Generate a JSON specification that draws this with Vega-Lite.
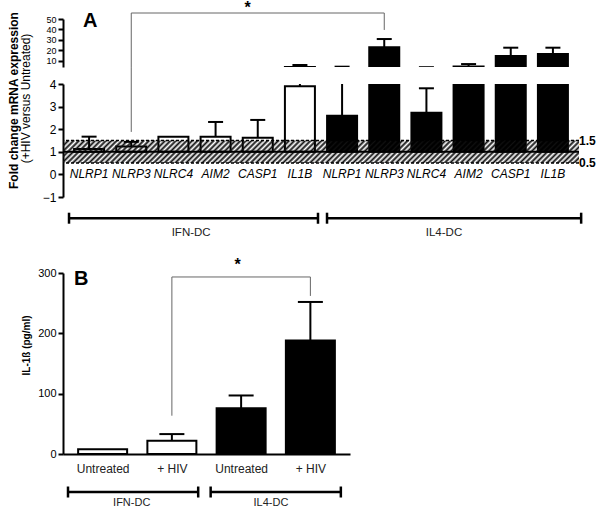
{
"$schema":"https://vega.github.io/schema/vega-lite/v6.json",
"padding":{"left":6,"top":0,"right":0,"bottom":0},
"background":"white",
"config":{"view":{"stroke":null},"font":"Liberation Sans","axis":{"domainColor":"black","domainWidth":2,"tickColor":"black","tickWidth":2,"tickSize":5,"labelColor":"black","labelFontSize":12,"labelPadding":2,"labelOverlap":false,"labelFlush":false,"labelBound":false,"grid":false,"titleColor":"black","labelFont":"Liberation Sans","titleFont":"Liberation Sans"},"text":{"font":"Liberation Sans"}},
"datasets":{
"a":[
{"pos":1,"gene":"NLRP1","group":"IFN-DC","value":1.12,"err":1.67},
{"pos":2,"gene":"NLRP3","group":"IFN-DC","value":1.24,"err":1.44},
{"pos":3,"gene":"NLRC4","group":"IFN-DC","value":1.67,"err":null},
{"pos":4,"gene":"AIM2","group":"IFN-DC","value":1.67,"err":2.32},
{"pos":5,"gene":"CASP1","group":"IFN-DC","value":1.62,"err":2.41},
{"pos":6,"gene":"IL1B","group":"IFN-DC","value":3.9,"err":5.9},
{"pos":7,"gene":"NLRP1","group":"IL4-DC","value":2.6,"err":4.3},
{"pos":8,"gene":"NLRP3","group":"IL4-DC","value":22.9,"err":30.8},
{"pos":9,"gene":"NLRC4","group":"IL4-DC","value":2.73,"err":3.81},
{"pos":10,"gene":"AIM2","group":"IL4-DC","value":4.5,"err":6.8},
{"pos":11,"gene":"CASP1","group":"IL4-DC","value":14.5,"err":22.5},
{"pos":12,"gene":"IL1B","group":"IL4-DC","value":16.5,"err":22.5}
],
"b":[
{"pos":1,"cond":"Untreated","group":"IFN-DC","value":8,"err":null},
{"pos":2,"cond":"+ HIV","group":"IFN-DC","value":22,"err":33},
{"pos":3,"cond":"Untreated","group":"IL4-DC","value":76,"err":97},
{"pos":4,"cond":"+ HIV","group":"IL4-DC","value":188,"err":252}
],
"brA_up":[{"x":2,"x2":2,"y":4,"y2":55.75},{"x":2,"x2":8,"y":55.75,"y2":55.75},{"x":8,"x2":8,"y":55.75,"y2":39.5}],
"brA_low":[{"x":2,"x2":2,"y":1.88,"y2":4.75}],
"brB":[{"x":2,"x2":2,"y":63.5,"y2":293.4},{"x":2,"x2":4,"y":293.4,"y2":293.4},{"x":4,"x2":4,"y":293.4,"y2":262}],
"grpA":[{"start":0.64,"end":6.43,"mid":3.48,"label":"IFN-DC"},{"start":6.64,"end":12.55,"mid":9.36,"label":"IL4-DC"}],
"grpB":[{"start":0.5,"end":2.38,"mid":1.42,"label":"IFN-DC"},{"start":2.56,"end":4.44,"mid":3.43,"label":"IL4-DC"}],
"refA":[{"y":1.5,"label":"1.5"},{"y":0.5,"label":"0.5"}]
},
"bounds":"flush",
"spacing":17,
"vconcat":[
{"width":516,"height":48,
"layer":[
{"data":{"name":"a"},"mark":{"type":"bar","width":30,"stroke":"black","strokeWidth":2,"clip":true},
"encoding":{
"x":{"field":"pos","type":"quantitative","scale":{"domain":[0.5,12.5],"nice":false,"zero":false},"axis":null},
"y":{"field":"value","type":"quantitative","scale":{"domain":[4,50],"nice":false,"zero":false},"axis":{"values":[10,20,30,40,50],"labelOverlap":false,"labelFontSize":9,"tickCount":5,"title":"(+HIV versus Untreated)","titleFontWeight":"normal","titleFontSize":12,"titleAngle":270,"titleX":-38,"titleY":79,"titleAlign":"center","titleBaseline":"middle"}},
"y2":{"datum":1},
"fill":{"field":"group","type":"nominal","scale":{"domain":["IFN-DC","IL4-DC"],"range":["white","black"]},"legend":null}}},
{"data":{"name":"a"},"transform":[{"filter":"datum.err != null"}],"mark":{"type":"rule","strokeWidth":2,"color":"black","clip":true},
"encoding":{"x":{"field":"pos","type":"quantitative"},"y":{"field":"value","type":"quantitative"},"y2":{"field":"err"}}},
{"data":{"name":"a"},"transform":[{"filter":"datum.err != null"}],"mark":{"type":"tick","orient":"horizontal","size":15,"thickness":2,"color":"black","opacity":1,"clip":true},
"encoding":{"x":{"field":"pos","type":"quantitative"},"y":{"field":"err","type":"quantitative"}}},
{"data":{"name":"brA_up"},"mark":{"type":"rule","color":"#666","strokeWidth":1},
"encoding":{"x":{"field":"x","type":"quantitative"},"x2":{"field":"x2"},"y":{"field":"y","type":"quantitative"},"y2":{"field":"y2"}}},
{"data":{"values":[{"label":"*"}]},"mark":{"type":"text","fontSize":16,"fontWeight":"bold","baseline":"middle","align":"center"},
"encoding":{"x":{"datum":4.76},"y":{"datum":60.5},"text":{"field":"label"}}},
{"data":{"values":[{"label":"A"}]},"mark":{"type":"text","fontSize":20,"fontWeight":"bold","baseline":"top","align":"left","dx":15,"dy":-8},
"encoding":{"x":{"datum":0.5},"y":{"datum":50},"text":{"field":"label"}}}
]},
{"width":516,"height":113,
"layer":[
{"data":{"name":"a"},"mark":{"type":"bar","width":30,"stroke":"black","strokeWidth":2,"clip":true},
"encoding":{
"x":{"field":"pos","type":"quantitative","scale":{"domain":[0.5,12.5],"nice":false,"zero":false},"axis":null},
"y":{"field":"value","type":"quantitative","scale":{"domain":[-1,4],"nice":false,"zero":false},"axis":{"values":[-1,0,1,2,3,4],"labelOverlap":false,"tickCount":6,"title":"Fold change  mRNA expression","titleFontWeight":"bold","titleFontSize":12,"titleAngle":270,"titleX":-50,"titleY":16,"titleAlign":"center","titleBaseline":"middle"}},
"y2":{"datum":1},
"fill":{"field":"group","type":"nominal","scale":{"domain":["IFN-DC","IL4-DC"],"range":["white","black"]},"legend":null}}},
{"data":{"values":[{}]},"mark":{"type":"rect","fill":{"gradient":"linear","x1":0,"y1":0,"x2":1.042,"y2":0.0456,"stops":[
{"offset":0,"color":"#111"},{"offset":0.005,"color":"transparent"},{"offset":0.01,"color":"#111"},{"offset":0.015,"color":"transparent"},{"offset":0.02,"color":"#111"},{"offset":0.025,"color":"transparent"},{"offset":0.03,"color":"#111"},{"offset":0.035,"color":"transparent"},{"offset":0.04,"color":"#111"},{"offset":0.045,"color":"transparent"},
{"offset":0.05,"color":"#111"},{"offset":0.055,"color":"transparent"},{"offset":0.06,"color":"#111"},{"offset":0.065,"color":"transparent"},{"offset":0.07,"color":"#111"},{"offset":0.075,"color":"transparent"},{"offset":0.08,"color":"#111"},{"offset":0.085,"color":"transparent"},{"offset":0.09,"color":"#111"},{"offset":0.095,"color":"transparent"},
{"offset":0.1,"color":"#111"},{"offset":0.105,"color":"transparent"},{"offset":0.11,"color":"#111"},{"offset":0.115,"color":"transparent"},{"offset":0.12,"color":"#111"},{"offset":0.125,"color":"transparent"},{"offset":0.13,"color":"#111"},{"offset":0.135,"color":"transparent"},{"offset":0.14,"color":"#111"},{"offset":0.145,"color":"transparent"},
{"offset":0.15,"color":"#111"},{"offset":0.155,"color":"transparent"},{"offset":0.16,"color":"#111"},{"offset":0.165,"color":"transparent"},{"offset":0.17,"color":"#111"},{"offset":0.175,"color":"transparent"},{"offset":0.18,"color":"#111"},{"offset":0.185,"color":"transparent"},{"offset":0.19,"color":"#111"},{"offset":0.195,"color":"transparent"},
{"offset":0.2,"color":"#111"},{"offset":0.205,"color":"transparent"},{"offset":0.21,"color":"#111"},{"offset":0.215,"color":"transparent"},{"offset":0.22,"color":"#111"},{"offset":0.225,"color":"transparent"},{"offset":0.23,"color":"#111"},{"offset":0.235,"color":"transparent"},{"offset":0.24,"color":"#111"},{"offset":0.245,"color":"transparent"},
{"offset":0.25,"color":"#111"},{"offset":0.255,"color":"transparent"},{"offset":0.26,"color":"#111"},{"offset":0.265,"color":"transparent"},{"offset":0.27,"color":"#111"},{"offset":0.275,"color":"transparent"},{"offset":0.28,"color":"#111"},{"offset":0.285,"color":"transparent"},{"offset":0.29,"color":"#111"},{"offset":0.295,"color":"transparent"},
{"offset":0.3,"color":"#111"},{"offset":0.305,"color":"transparent"},{"offset":0.31,"color":"#111"},{"offset":0.315,"color":"transparent"},{"offset":0.32,"color":"#111"},{"offset":0.325,"color":"transparent"},{"offset":0.33,"color":"#111"},{"offset":0.335,"color":"transparent"},{"offset":0.34,"color":"#111"},{"offset":0.345,"color":"transparent"},
{"offset":0.35,"color":"#111"},{"offset":0.355,"color":"transparent"},{"offset":0.36,"color":"#111"},{"offset":0.365,"color":"transparent"},{"offset":0.37,"color":"#111"},{"offset":0.375,"color":"transparent"},{"offset":0.38,"color":"#111"},{"offset":0.385,"color":"transparent"},{"offset":0.39,"color":"#111"},{"offset":0.395,"color":"transparent"},
{"offset":0.4,"color":"#111"},{"offset":0.405,"color":"transparent"},{"offset":0.41,"color":"#111"},{"offset":0.415,"color":"transparent"},{"offset":0.42,"color":"#111"},{"offset":0.425,"color":"transparent"},{"offset":0.43,"color":"#111"},{"offset":0.435,"color":"transparent"},{"offset":0.44,"color":"#111"},{"offset":0.445,"color":"transparent"},
{"offset":0.45,"color":"#111"},{"offset":0.455,"color":"transparent"},{"offset":0.46,"color":"#111"},{"offset":0.465,"color":"transparent"},{"offset":0.47,"color":"#111"},{"offset":0.475,"color":"transparent"},{"offset":0.48,"color":"#111"},{"offset":0.485,"color":"transparent"},{"offset":0.49,"color":"#111"},{"offset":0.495,"color":"transparent"},
{"offset":0.5,"color":"#111"},{"offset":0.505,"color":"transparent"},{"offset":0.51,"color":"#111"},{"offset":0.515,"color":"transparent"},{"offset":0.52,"color":"#111"},{"offset":0.525,"color":"transparent"},{"offset":0.53,"color":"#111"},{"offset":0.535,"color":"transparent"},{"offset":0.54,"color":"#111"},{"offset":0.545,"color":"transparent"},
{"offset":0.55,"color":"#111"},{"offset":0.555,"color":"transparent"},{"offset":0.56,"color":"#111"},{"offset":0.565,"color":"transparent"},{"offset":0.57,"color":"#111"},{"offset":0.575,"color":"transparent"},{"offset":0.58,"color":"#111"},{"offset":0.585,"color":"transparent"},{"offset":0.59,"color":"#111"},{"offset":0.595,"color":"transparent"},
{"offset":0.6,"color":"#111"},{"offset":0.605,"color":"transparent"},{"offset":0.61,"color":"#111"},{"offset":0.615,"color":"transparent"},{"offset":0.62,"color":"#111"},{"offset":0.625,"color":"transparent"},{"offset":0.63,"color":"#111"},{"offset":0.635,"color":"transparent"},{"offset":0.64,"color":"#111"},{"offset":0.645,"color":"transparent"},
{"offset":0.65,"color":"#111"},{"offset":0.655,"color":"transparent"},{"offset":0.66,"color":"#111"},{"offset":0.665,"color":"transparent"},{"offset":0.67,"color":"#111"},{"offset":0.675,"color":"transparent"},{"offset":0.68,"color":"#111"},{"offset":0.685,"color":"transparent"},{"offset":0.69,"color":"#111"},{"offset":0.695,"color":"transparent"},
{"offset":0.7,"color":"#111"},{"offset":0.705,"color":"transparent"},{"offset":0.71,"color":"#111"},{"offset":0.715,"color":"transparent"},{"offset":0.72,"color":"#111"},{"offset":0.725,"color":"transparent"},{"offset":0.73,"color":"#111"},{"offset":0.735,"color":"transparent"},{"offset":0.74,"color":"#111"},{"offset":0.745,"color":"transparent"},
{"offset":0.75,"color":"#111"},{"offset":0.755,"color":"transparent"},{"offset":0.76,"color":"#111"},{"offset":0.765,"color":"transparent"},{"offset":0.77,"color":"#111"},{"offset":0.775,"color":"transparent"},{"offset":0.78,"color":"#111"},{"offset":0.785,"color":"transparent"},{"offset":0.79,"color":"#111"},{"offset":0.795,"color":"transparent"},
{"offset":0.8,"color":"#111"},{"offset":0.805,"color":"transparent"},{"offset":0.81,"color":"#111"},{"offset":0.815,"color":"transparent"},{"offset":0.82,"color":"#111"},{"offset":0.825,"color":"transparent"},{"offset":0.83,"color":"#111"},{"offset":0.835,"color":"transparent"},{"offset":0.84,"color":"#111"},{"offset":0.845,"color":"transparent"},
{"offset":0.85,"color":"#111"},{"offset":0.855,"color":"transparent"},{"offset":0.86,"color":"#111"},{"offset":0.865,"color":"transparent"},{"offset":0.87,"color":"#111"},{"offset":0.875,"color":"transparent"},{"offset":0.88,"color":"#111"},{"offset":0.885,"color":"transparent"},{"offset":0.89,"color":"#111"},{"offset":0.895,"color":"transparent"},
{"offset":0.9,"color":"#111"},{"offset":0.905,"color":"transparent"},{"offset":0.91,"color":"#111"},{"offset":0.915,"color":"transparent"},{"offset":0.92,"color":"#111"},{"offset":0.925,"color":"transparent"},{"offset":0.93,"color":"#111"},{"offset":0.935,"color":"transparent"},{"offset":0.94,"color":"#111"},{"offset":0.945,"color":"transparent"},
{"offset":0.95,"color":"#111"},{"offset":0.955,"color":"transparent"},{"offset":0.96,"color":"#111"},{"offset":0.965,"color":"transparent"},{"offset":0.97,"color":"#111"},{"offset":0.975,"color":"transparent"},{"offset":0.98,"color":"#111"},{"offset":0.985,"color":"transparent"},{"offset":0.99,"color":"#111"},{"offset":0.995,"color":"transparent"},
{"offset":1,"color":"#111"}]}},
"encoding":{"x":{"value":0},"x2":{"value":"width"},"y":{"datum":0.5},"y2":{"datum":1.5}}},
{"data":{"name":"a"},"transform":[{"filter":"datum.err != null"}],"mark":{"type":"rule","strokeWidth":2,"color":"black","clip":true},
"encoding":{"x":{"field":"pos","type":"quantitative"},"y":{"field":"value","type":"quantitative"},"y2":{"field":"err"}}},
{"data":{"name":"a"},"transform":[{"filter":"datum.err != null"}],"mark":{"type":"tick","orient":"horizontal","size":15,"thickness":2,"color":"black","opacity":1,"clip":true},
"encoding":{"x":{"field":"pos","type":"quantitative"},"y":{"field":"err","type":"quantitative"}}},
{"data":{"name":"refA"},"mark":{"type":"rule","color":"black","strokeWidth":1.5,"strokeDash":[3,2]},
"encoding":{"y":{"field":"y","type":"quantitative"}}},
{"data":{"values":[{}]},"mark":{"type":"rule","color":"black","strokeWidth":2},
"encoding":{"y":{"datum":1}}},
{"data":{"name":"refA"},"mark":{"type":"text","fontSize":12,"fontWeight":"bold","align":"left","baseline":"middle","dx":5},
"encoding":{"x":{"datum":12.5},"y":{"field":"y","type":"quantitative"},"text":{"field":"label"}}},
{"data":{"name":"a"},"mark":{"type":"text","fontSize":12,"fontStyle":"italic","baseline":"middle","align":"center"},
"encoding":{"x":{"field":"pos","type":"quantitative"},"y":{"datum":0},"text":{"field":"gene"}}},
{"data":{"name":"brA_low"},"mark":{"type":"rule","color":"#666","strokeWidth":1},
"encoding":{"x":{"field":"x","type":"quantitative"},"x2":{"field":"x2"},"y":{"field":"y","type":"quantitative"},"y2":{"field":"y2"}}}
]},
{"width":516,"height":42,
"layer":[
{"data":{"name":"grpA"},"mark":{"type":"rule","color":"black","strokeWidth":2.5},
"encoding":{"x":{"field":"start","type":"quantitative","scale":{"domain":[0.5,12.5],"nice":false,"zero":false},"axis":null},"x2":{"field":"end"},"y":{"datum":0.9,"type":"quantitative","scale":{"domain":[0,1],"nice":false},"axis":null}}},
{"data":{"name":"grpA"},"mark":{"type":"tick","orient":"vertical","size":11,"thickness":2.5,"color":"black","opacity":1},
"encoding":{"x":{"field":"start","type":"quantitative"},"y":{"datum":0.9}}},
{"data":{"name":"grpA"},"mark":{"type":"tick","orient":"vertical","size":11,"thickness":2.5,"color":"black","opacity":1},
"encoding":{"x":{"field":"end","type":"quantitative"},"y":{"datum":0.9}}},
{"data":{"name":"grpA"},"mark":{"type":"text","fontSize":11.5,"color":"#222","baseline":"middle","align":"center"},
"encoding":{"x":{"field":"mid","type":"quantitative"},"y":{"datum":0.55},"text":{"field":"label"}}}
]},
{"width":287,"height":181,
"layer":[
{"data":{"name":"b"},"mark":{"type":"bar","width":49,"stroke":"black","strokeWidth":2},
"encoding":{
"x":{"field":"pos","type":"quantitative","scale":{"domain":[0.5,4.5],"nice":false,"zero":false},"axis":{"values":[1,2,3,4],"labelExpr":"datum.value % 2 == 1 ? 'Untreated' : '+ HIV'","ticks":false,"title":null,"labelPadding":9,"labelFontSize":12,"labelColor":"#222"}},
"y":{"field":"value","type":"quantitative","scale":{"domain":[0,300],"nice":false},"axis":{"values":[0,100,200,300],"labelOverlap":false,"labelFontSize":11,"title":"IL-1ß (pg/ml)","titleFontWeight":"bold","titleFontSize":10,"titleAngle":270,"titleX":-37,"titleY":72,"titleAlign":"center","titleBaseline":"middle"}},
"y2":{"datum":0},
"fill":{"field":"group","type":"nominal","scale":{"domain":["IFN-DC","IL4-DC"],"range":["white","black"]},"legend":null}}},
{"data":{"name":"b"},"transform":[{"filter":"datum.err != null"}],"mark":{"type":"rule","strokeWidth":2,"color":"black"},
"encoding":{"x":{"field":"pos","type":"quantitative"},"y":{"field":"value","type":"quantitative"},"y2":{"field":"err"}}},
{"data":{"name":"b"},"transform":[{"filter":"datum.err != null"}],"mark":{"type":"tick","orient":"horizontal","size":25,"thickness":2,"color":"black","opacity":1},
"encoding":{"x":{"field":"pos","type":"quantitative"},"y":{"field":"err","type":"quantitative"}}},
{"data":{"name":"brB"},"mark":{"type":"rule","color":"#666","strokeWidth":1},
"encoding":{"x":{"field":"x","type":"quantitative"},"x2":{"field":"x2"},"y":{"field":"y","type":"quantitative"},"y2":{"field":"y2"}}},
{"data":{"values":[{"label":"*"}]},"mark":{"type":"text","fontSize":16,"fontWeight":"bold","baseline":"middle","align":"center"},
"encoding":{"x":{"datum":2.95},"y":{"datum":313},"text":{"field":"label"}}},
{"data":{"values":[{"label":"B"}]},"mark":{"type":"text","fontSize":20,"fontWeight":"bold","baseline":"top","align":"left","dx":6,"dy":-4},
"encoding":{"x":{"datum":0.5},"y":{"datum":300},"text":{"field":"label"}}},
{"data":{"name":"grpB"},"mark":{"type":"rule","color":"black","strokeWidth":2.5},
"encoding":{"x":{"field":"start","type":"quantitative"},"x2":{"field":"end"},"y":{"datum":-63}}},
{"data":{"name":"grpB"},"mark":{"type":"tick","orient":"vertical","size":11,"thickness":2.5,"color":"black","opacity":1},
"encoding":{"x":{"field":"start","type":"quantitative"},"y":{"datum":-63}}},
{"data":{"name":"grpB"},"mark":{"type":"tick","orient":"vertical","size":11,"thickness":2.5,"color":"black","opacity":1},
"encoding":{"x":{"field":"end","type":"quantitative"},"y":{"datum":-63}}},
{"data":{"name":"grpB"},"mark":{"type":"text","fontSize":11,"color":"#222","baseline":"middle","align":"center"},
"encoding":{"x":{"field":"mid","type":"quantitative"},"y":{"datum":-81},"text":{"field":"label"}}}
]}
]
}
